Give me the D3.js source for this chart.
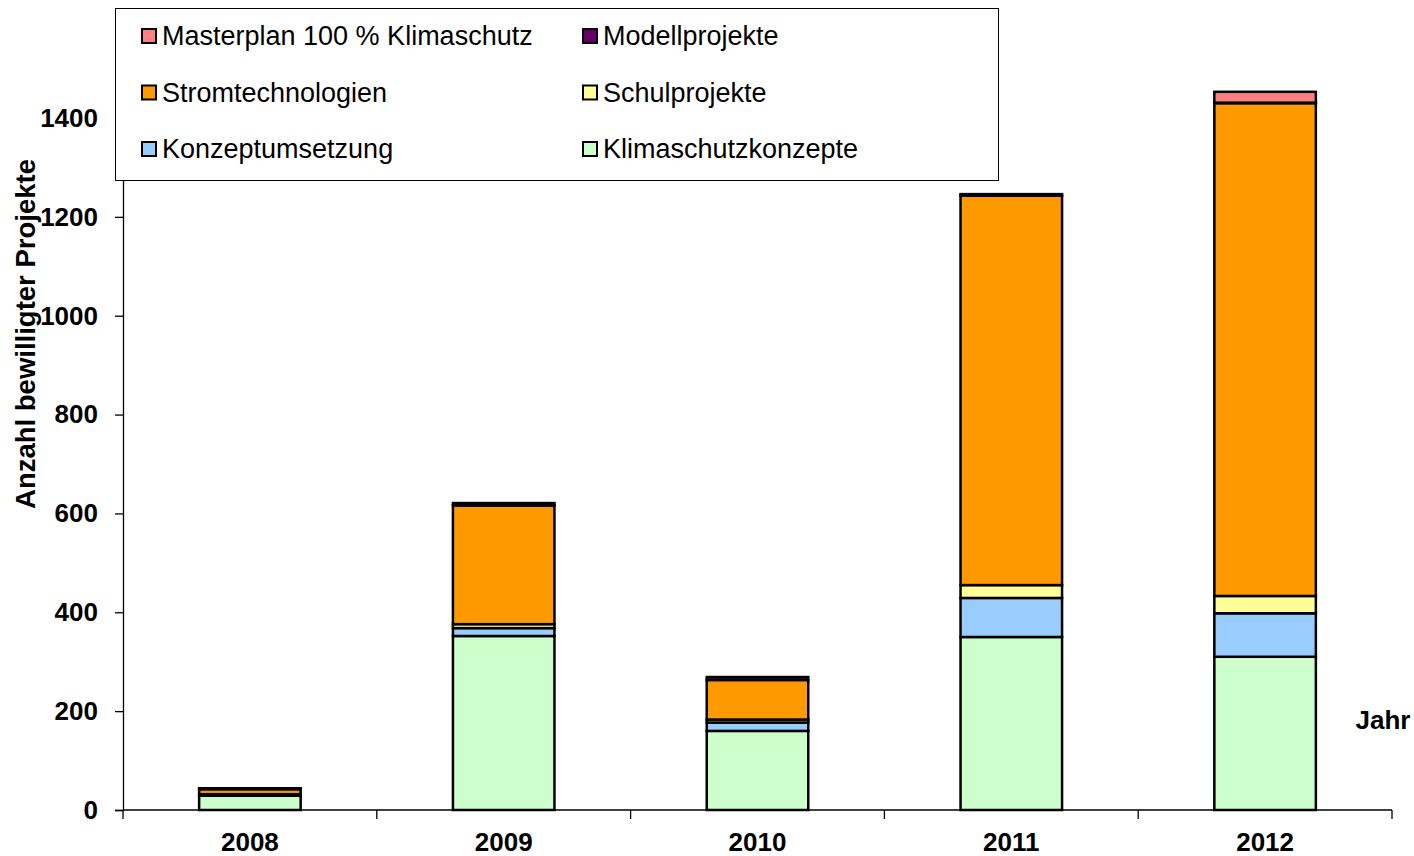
<!DOCTYPE html>
<html>
<head>
<meta charset="utf-8">
<script src="https://cdn.jsdelivr.net/npm/d3@7"></script>
<style>
  body { margin: 0; background: #fff; }
  text { font-family: "Liberation Sans", Arial, sans-serif; }
</style>
</head>
<body>
<div id="chart-container"></div>
<script>
// data
const years = ["2008", "2009", "2010", "2011", "2012"];
const seriesNames = ["Klimaschutzkonzepte", "Konzeptumsetzung", "Schulprojekte", "Stromtechnologien", "Modellprojekte", "Masterplan 100 % Klimaschutz"];
const klimaschutzkonzepte = [29, 352, 160, 350, 310];
const konzeptumsetzung = [0, 16, 17, 79, 88];
const schulprojekte = [3, 8, 6, 26, 35];
const stromtechnologien = [10, 240, 80, 788, 997];
const modellprojekte = [2, 5, 6, 3, 1];
const masterplan = [0, 0, 0, 0, 22];
const seriesColors = ["#CCFFCC", "#99CCFF", "#FFFF99", "#FF9900", "#660066", "#FF8080"];
const yTicks = [0, 200, 400, 600, 800, 1000, 1200, 1400];
// legend layout order (row by row, two columns)
const legendOrder = ["Masterplan 100 % Klimaschutz", "Modellprojekte", "Stromtechnologien", "Schulprojekte", "Konzeptumsetzung", "Klimaschutzkonzepte"];

const W = 1414, H = 856;
const plotLeft = 123, plotRight = 1392, plotBottom = 810, plotTop = 118;

const rows = years.map((yr, i) => ({
  year: yr,
  "Klimaschutzkonzepte": klimaschutzkonzepte[i],
  "Konzeptumsetzung": konzeptumsetzung[i],
  "Schulprojekte": schulprojekte[i],
  "Stromtechnologien": stromtechnologien[i],
  "Modellprojekte": modellprojekte[i],
  "Masterplan 100 % Klimaschutz": masterplan[i]
}));

const stacked = d3.stack().keys(seriesNames)(rows);

const x = d3.scaleBand().domain(years).range([plotLeft, plotRight]).paddingInner(0.6).paddingOuter(0.3);
const y = d3.scaleLinear().domain([0, 1400]).range([plotBottom, plotTop]);
const color = d3.scaleOrdinal().domain(seriesNames).range(seriesColors);

const svg = d3.select("#chart-container")
  .append("svg")
  .attr("width", W)
  .attr("height", H);

// bars
svg.append("g")
  .selectAll("g")
  .data(stacked)
  .join("g")
  .attr("fill", d => color(d.key))
  .selectAll("rect")
  .data(d => d)
  .join("rect")
  .attr("x", d => x(d.data.year))
  .attr("width", x.bandwidth())
  .attr("y", d => y(d[1]))
  .attr("height", d => y(d[0]) - y(d[1]))
  .attr("stroke", "#000")
  .attr("stroke-width", 2.5);

// y axis
const yAxis = svg.append("g")
  .attr("transform", `translate(${plotLeft},0)`)
  .call(d3.axisLeft(y).tickValues(yTicks).tickSize(8).tickPadding(17).tickFormat(d3.format("d")));
yAxis.select(".domain").attr("stroke", "#000").attr("stroke-width", 1.3);
yAxis.selectAll(".tick line").attr("stroke", "#000").attr("stroke-width", 1.3);
yAxis.selectAll("text")
  .attr("font-size", 26).attr("font-weight", "bold").attr("fill", "#000")
  .attr("font-family", "'Liberation Sans', Arial, sans-serif");

// x axis: ticks at category boundaries
const step = (plotRight - plotLeft) / years.length;
const xAxis = svg.append("g").attr("transform", `translate(0,${plotBottom})`);
xAxis.append("line")
  .attr("x1", plotLeft).attr("x2", plotRight)
  .attr("stroke", "#000").attr("stroke-width", 1.3);
xAxis.selectAll(".bt")
  .data(d3.range(years.length + 1))
  .join("line")
  .attr("x1", i => plotLeft + i * step).attr("x2", i => plotLeft + i * step)
  .attr("y1", 0).attr("y2", 9)
  .attr("stroke", "#000").attr("stroke-width", 1.3);
xAxis.selectAll(".lbl")
  .data(years)
  .join("text")
  .attr("x", d => x(d) + x.bandwidth() / 2)
  .attr("y", 41)
  .attr("text-anchor", "middle")
  .attr("font-size", 26).attr("font-weight", "bold")
  .text(d => d);

// axis titles
svg.append("text")
  .attr("transform", "translate(35,334) rotate(-90)")
  .attr("text-anchor", "middle")
  .attr("font-size", 27.5).attr("font-weight", "bold")
  .text("Anzahl bewilligter Projekte");

svg.append("text")
  .attr("x", 1383).attr("y", 729)
  .attr("text-anchor", "middle")
  .attr("font-size", 26).attr("font-weight", "bold")
  .text("Jahr");

// legend
const legend = svg.append("g");
legend.append("rect")
  .attr("x", 115.5).attr("y", 8.5)
  .attr("width", 883).attr("height", 172)
  .attr("fill", "#fff").attr("stroke", "#000").attr("stroke-width", 1);

const item = legend.selectAll(".item")
  .data(legendOrder)
  .join("g")
  .attr("transform", (d, i) => `translate(${i % 2 === 0 ? 142 : 583},${45 + Math.floor(i / 2) * 56.5})`);
item.append("rect")
  .attr("x", 0).attr("y", -16)
  .attr("width", 14).attr("height", 14)
  .attr("fill", d => color(d))
  .attr("stroke", "#000").attr("stroke-width", 2);
item.append("text")
  .attr("x", 20).attr("y", 0)
  .attr("font-size", 27)
  .text(d => d);
</script>
</body>
</html>
